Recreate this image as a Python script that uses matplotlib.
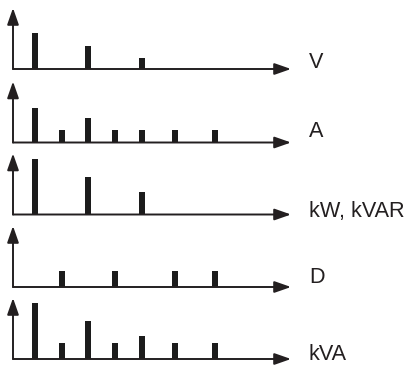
import matplotlib
matplotlib.use("Agg")
import matplotlib.pyplot as plt

# bar slots along the (unlabelled) horizontal axis
slots = [1, 2, 3, 4, 5, 6.25, 7.75]

# one list per panel: slot positions and bar heights (arbitrary units)
v_slots = [1, 3, 5]
v_vals = [36, 23, 11]

a_slots = slots
a_vals = [35, 13, 25, 13, 13, 13, 13]

kw_slots = [1, 3, 5]
kw_vals = [56, 38, 23]

d_slots = [2, 4, 6.25, 7.75]
d_vals = [16, 16, 16, 16]

kva_slots = slots
kva_vals = [56, 16, 38, 16, 23, 16, 16]

labels = ["V", "A", "kW, kVAR", "D", "kVA"]
panels = [(v_slots, v_vals), (a_slots, a_vals), (kw_slots, kw_vals),
          (d_slots, d_vals), (kva_slots, kva_vals)]

W, H = 409, 365
baselines = [69, 142.5, 214.5, 287, 359]   # pixel rows of the x axes
label_base = [68, 137, 217, 283, 360]      # text baselines
ink = "#231f20"

plt.rcParams['font.family'] = ['Liberation Sans', 'DejaVu Sans']
fig = plt.figure(figsize=(W / 100, H / 100), dpi=100)

x_left, x_right = 13, 291
ax_h = 61
for (sx, sv), base, lab, lb in zip(panels, baselines, labels, label_base):
    ax = fig.add_axes([x_left / W, (H - base) / H, (x_right - x_left) / W, ax_h / H])
    ax.set_xlim(0.176, 10.59)
    ax.set_ylim(0, ax_h)
    ax.axis("off")
    ax.bar(sx, sv, width=0.23, color="#1c1c1c", align="center")
    # axes with arrow heads
    arrow = dict(arrowstyle="-|>,head_length=1.0,head_width=0.35",
                 mutation_scale=10, lw=1.4, color=ink, shrinkA=0, shrinkB=0)
    ax.annotate("", xy=(1, 0), xytext=(0, 0), xycoords="axes fraction",
                arrowprops=arrow, annotation_clip=False)
    ax.annotate("", xy=(0, 1), xytext=(0, 0), xycoords="axes fraction",
                arrowprops=arrow, annotation_clip=False)
    fig.text(309 / W, (H - lb) / H, lab, fontsize=15.6, color=ink,
             ha="left", va="baseline")

fig.savefig("out.png", dpi=100)
